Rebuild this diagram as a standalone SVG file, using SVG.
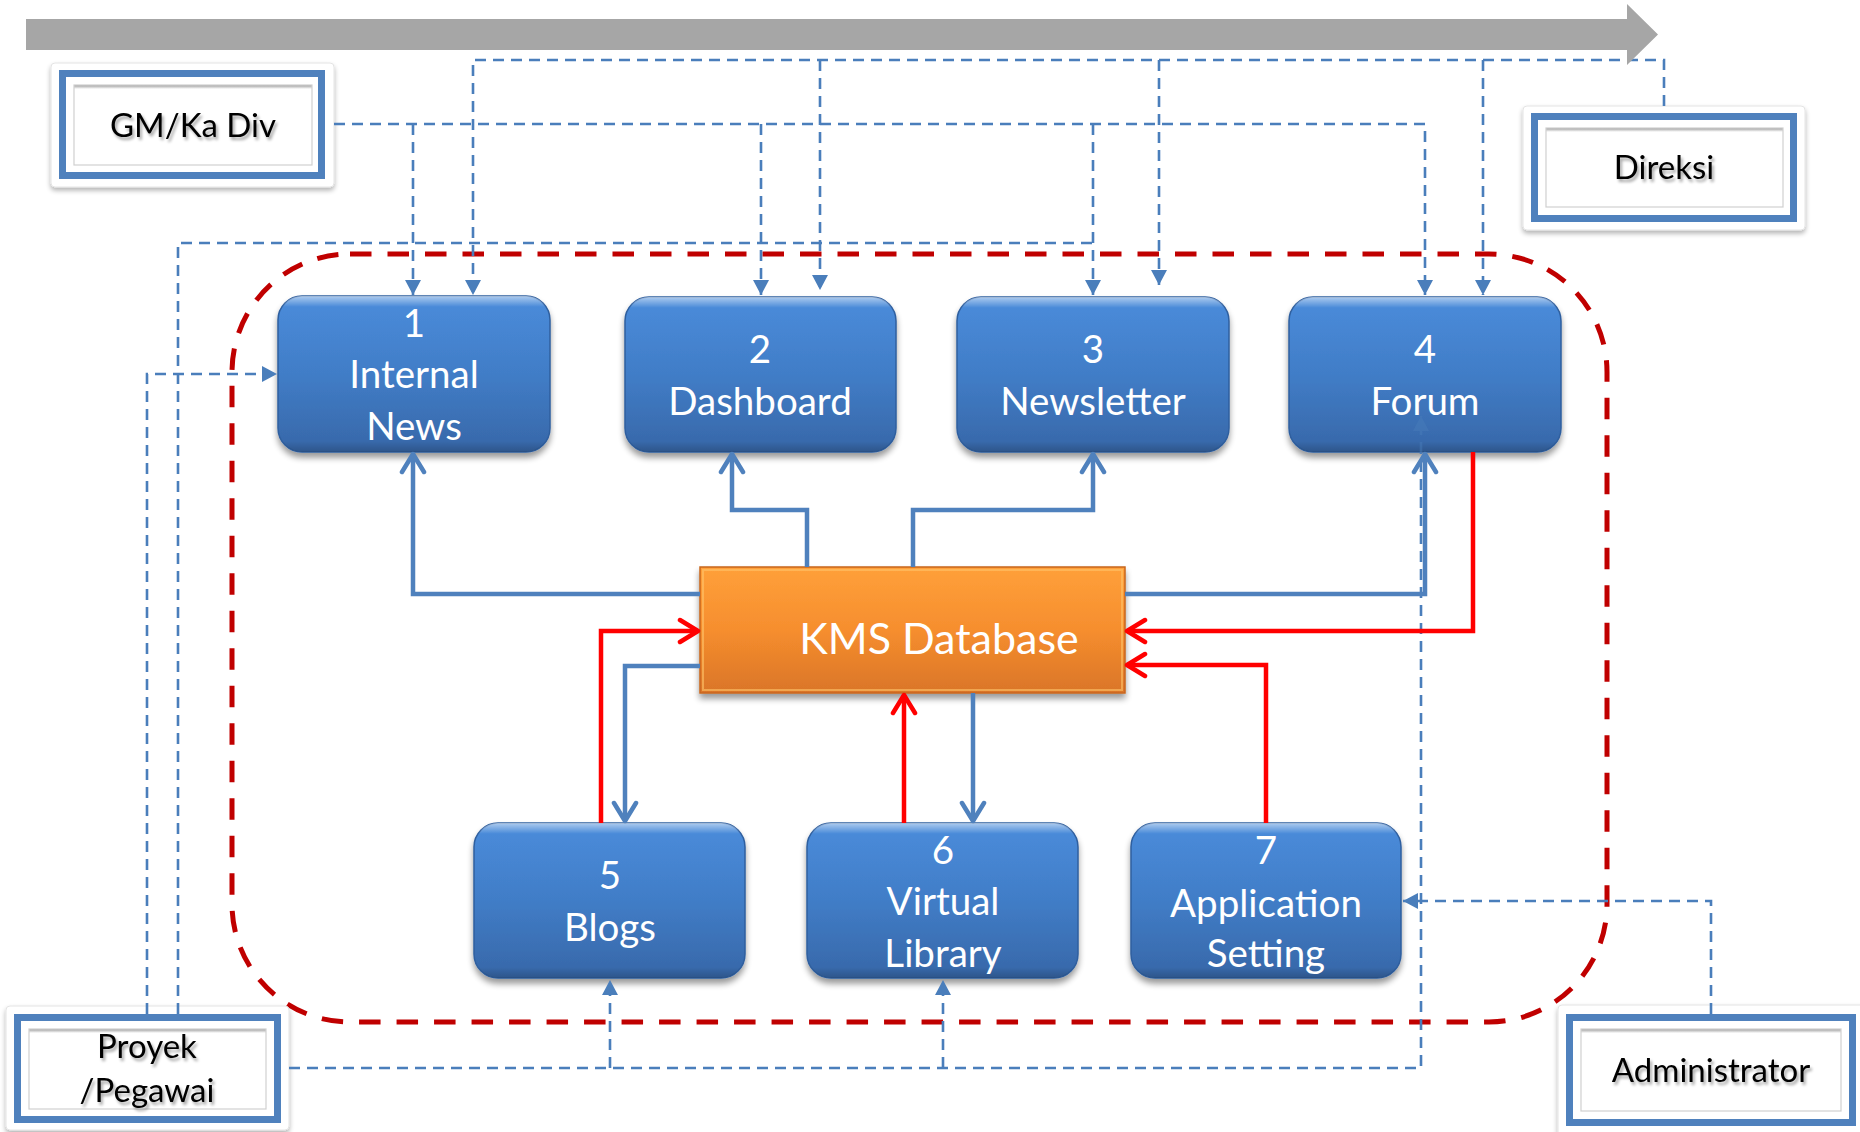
<svg xmlns="http://www.w3.org/2000/svg" width="1860" height="1132" viewBox="0 0 1860 1132">
<defs>
  <linearGradient id="gBlue" x1="0" y1="0" x2="0" y2="1">
    <stop offset="0" stop-color="#4A8CDB"/>
    <stop offset="0.5" stop-color="#417DC7"/>
    <stop offset="1" stop-color="#3767A8"/>
  </linearGradient>
  <linearGradient id="gHl" x1="0" y1="0" x2="0" y2="1">
    <stop offset="0" stop-color="#ffffff" stop-opacity="0.55"/>
    <stop offset="0.07" stop-color="#ffffff" stop-opacity="0"/>
    <stop offset="0.93" stop-color="#000000" stop-opacity="0"/>
    <stop offset="1" stop-color="#000000" stop-opacity="0.18"/>
  </linearGradient>
  <linearGradient id="gOrange" x1="0" y1="0" x2="0" y2="1">
    <stop offset="0" stop-color="#FFA03A"/>
    <stop offset="0.5" stop-color="#F68E2E"/>
    <stop offset="1" stop-color="#DA7528"/>
  </linearGradient>
  <linearGradient id="gInner" x1="0" y1="0" x2="0" y2="1">
    <stop offset="0" stop-color="#9a9a9a"/>
    <stop offset="0.05" stop-color="#ffffff"/>
    <stop offset="1" stop-color="#ffffff"/>
  </linearGradient>
  <filter id="shadow" x="-10%" y="-10%" width="120%" height="135%">
    <feGaussianBlur in="SourceAlpha" stdDeviation="3"/>
    <feOffset dy="5"/>
    <feComponentTransfer><feFuncA type="linear" slope="0.4"/></feComponentTransfer>
    <feMerge><feMergeNode/><feMergeNode in="SourceGraphic"/></feMerge>
  </filter>
  <filter id="cshadow" x="-10%" y="-10%" width="120%" height="130%">
    <feGaussianBlur in="SourceAlpha" stdDeviation="2.5"/>
    <feOffset dy="3"/>
    <feComponentTransfer><feFuncA type="linear" slope="0.3"/></feComponentTransfer>
    <feMerge><feMergeNode/><feMergeNode in="SourceGraphic"/></feMerge>
  </filter>
  <filter id="tshadow" x="-10%" y="-30%" width="130%" height="170%">
    <feGaussianBlur in="SourceAlpha" stdDeviation="1.5"/>
    <feOffset dx="2" dy="3"/>
    <feComponentTransfer><feFuncA type="linear" slope="0.35"/></feComponentTransfer>
    <feMerge><feMergeNode/><feMergeNode in="SourceGraphic"/></feMerge>
  </filter>
  <marker id="arrD" markerUnits="userSpaceOnUse" markerWidth="16" markerHeight="16" refX="15" refY="8" orient="auto">
    <path d="M0,0 L15,8 L0,16 Z" fill="#4A7EBB" stroke="none"/>
  </marker>
  <marker id="arrB" markerUnits="userSpaceOnUse" markerWidth="26" markerHeight="28" refX="21" refY="14" orient="auto">
    <path d="M3,3 L21,14 L3,25" fill="none" stroke="#4F81BD" stroke-width="4.5" stroke-linecap="round" stroke-linejoin="round"/>
  </marker>
  <marker id="arrR" markerUnits="userSpaceOnUse" markerWidth="26" markerHeight="28" refX="21" refY="14" orient="auto">
    <path d="M3,3 L21,14 L3,25" fill="none" stroke="#FF0000" stroke-width="4.5" stroke-linecap="round" stroke-linejoin="round"/>
  </marker>
</defs>
<style>
  .nb { fill:url(#gBlue); stroke:#2F5F9F; stroke-width:1.5; filter:url(#shadow); }
  .hl { fill:url(#gHl); stroke:none; }
  .nt { font-family:Lato, "Liberation Sans", sans-serif; font-size:38.5px; fill:#ffffff; text-anchor:middle; }
  .card { fill:#ffffff; stroke:#e4e4e4; stroke-width:1; filter:url(#cshadow); }
  .abord { fill:#ffffff; stroke:#4F81BD; stroke-width:7; }
  .ainner { fill:url(#gInner); stroke:#d0d0d0; stroke-width:1.2; }
  .at { font-family:Lato, "Liberation Sans", sans-serif; font-size:33px; fill:#000000; text-anchor:middle; filter:url(#tshadow); }
  .dash { fill:none; stroke:#4A7EBB; stroke-width:2.6; stroke-dasharray:11 7; }
  .sb { fill:none; stroke:#4F81BD; stroke-width:4.5; stroke-linejoin:miter; }
  .sr { fill:none; stroke:#FF0000; stroke-width:4.5; stroke-linejoin:miter; }
  .bound { fill:none; stroke:#C00000; stroke-width:5; stroke-dasharray:21.5 16; }
</style>

<rect width="1860" height="1132" fill="#ffffff"/>

<!-- boundary -->
<rect id="boundary" class="bound" x="232" y="254" width="1375" height="768" rx="118" ry="118"/>

<!-- actors -->
<g id="gm">
  <rect class="card" x="51" y="63" width="283" height="124" rx="4"/>
  <rect class="abord" x="62.5" y="73.5" width="259" height="102"/>
  <rect class="ainner" x="74" y="85" width="238" height="80"/>
  <text class="at" x="193" y="137">GM/Ka Div</text>
</g>
<g id="direksi">
  <rect class="card" x="1523" y="106" width="282" height="124" rx="4"/>
  <rect class="abord" x="1534.5" y="116.5" width="259" height="102"/>
  <rect class="ainner" x="1546" y="128" width="237" height="79"/>
  <text class="at" x="1664" y="179" font-size="34">Direksi</text>
</g>
<g id="proyek">
  <rect class="card" x="6" y="1006" width="283" height="124" rx="4"/>
  <rect class="abord" x="17.5" y="1017.5" width="260" height="102"/>
  <rect class="ainner" x="29" y="1029" width="237" height="80"/>
  <text class="at" x="147" y="1058">Proyek</text>
  <text class="at" x="147" y="1102">/Pegawai</text>
</g>
<g id="admin">
  <rect class="card" x="1558" y="1005" width="310" height="132" rx="4"/>
  <rect class="abord" x="1569.5" y="1017.5" width="283" height="105"/>
  <rect class="ainner" x="1581" y="1029" width="260" height="82"/>
  <text class="at" x="1711" y="1082" font-size="34.5">Administrator</text>
</g>

<!-- nodes -->
<g id="n1">
  <rect class="nb" x="278" y="296" width="272" height="156" rx="24"/>
  <rect class="hl" x="278" y="296" width="272" height="156" rx="24"/>
  <text class="nt" x="414" y="337">1</text>
  <text class="nt" x="414" y="388">Internal</text>
  <text class="nt" x="414" y="440">News</text>
</g>
<g id="n2">
  <rect class="nb" x="625" y="297" width="271" height="155" rx="24"/>
  <rect class="hl" x="625" y="297" width="271" height="155" rx="24"/>
  <text class="nt" x="760" y="363">2</text>
  <text class="nt" x="760" y="415">Dashboard</text>
</g>
<g id="n3">
  <rect class="nb" x="957" y="297" width="272" height="155" rx="24"/>
  <rect class="hl" x="957" y="297" width="272" height="155" rx="24"/>
  <text class="nt" x="1093" y="363">3</text>
  <text class="nt" x="1093" y="415">Newsletter</text>
</g>
<g id="n4">
  <rect class="nb" x="1289" y="297" width="272" height="155" rx="24"/>
  <rect class="hl" x="1289" y="297" width="272" height="155" rx="24"/>
  <text class="nt" x="1425" y="363">4</text>
  <text class="nt" x="1425" y="415">Forum</text>
</g>
<g id="n5">
  <rect class="nb" x="474" y="823" width="271" height="155" rx="24"/>
  <rect class="hl" x="474" y="823" width="271" height="155" rx="24"/>
  <text class="nt" x="610" y="889">5</text>
  <text class="nt" x="610" y="941">Blogs</text>
</g>
<g id="n6">
  <rect class="nb" x="807" y="823" width="271" height="155" rx="24"/>
  <rect class="hl" x="807" y="823" width="271" height="155" rx="24"/>
  <text class="nt" x="943" y="864">6</text>
  <text class="nt" x="943" y="915">Virtual</text>
  <text class="nt" x="943" y="967">Library</text>
</g>
<g id="n7">
  <rect class="nb" x="1131" y="823" width="270" height="155" rx="24"/>
  <rect class="hl" x="1131" y="823" width="270" height="155" rx="24"/>
  <text class="nt" x="1266" y="864">7</text>
  <text class="nt" x="1266" y="917">Application</text>
  <text class="nt" x="1266" y="967">Setting</text>
</g>
<g id="kms">
  <rect x="700" y="567" width="425" height="126" fill="url(#gOrange)" stroke="#C8661E" stroke-width="1.5" filter="url(#shadow)"/>
  <rect x="703" y="570" width="419" height="120" fill="none" stroke="#FFC46A" stroke-width="2" stroke-opacity="0.6"/>
  <text x="939" y="654" font-family="Lato, 'Liberation Sans', sans-serif" font-size="43" fill="#ffffff" text-anchor="middle">KMS Database</text>
</g>

<!-- connectors -->
<g id="connectors">
  <!-- GM/Ka Div -->
  <path class="dash" d="M334,124 H1425 V295" marker-end="url(#arrD)"/>
  <path class="dash" d="M413,124 V295" marker-end="url(#arrD)"/>
  <path class="dash" d="M761,124 V295" marker-end="url(#arrD)"/>
  <path class="dash" d="M1093,124 V295" marker-end="url(#arrD)"/>
  <!-- Direksi -->
  <path class="dash" d="M1664,106 V60 H473 V295" marker-end="url(#arrD)"/>
  <path class="dash" d="M820,60 V290" marker-end="url(#arrD)"/>
  <path class="dash" d="M1159,60 V285" marker-end="url(#arrD)"/>
  <path class="dash" d="M1483,60 V295" marker-end="url(#arrD)"/>
  <!-- Proyek / Pegawai -->
  <path class="dash" d="M178,1014 V243 H1093"/>
  <path class="dash" d="M147,1014 V374 H277" marker-end="url(#arrD)"/>
  <path class="dash" d="M289,1068 H1421 V453"/>
  <path class="dash" d="M1421,453 V416" marker-end="url(#arrD)" opacity="0.45"/>
  <path class="dash" d="M610,1068 V980" marker-end="url(#arrD)"/>
  <path class="dash" d="M943,1068 V980" marker-end="url(#arrD)"/>
  <!-- Administrator -->
  <path class="dash" d="M1711,1014 V901 H1403" marker-end="url(#arrD)"/>
  <!-- KMS Database to modules -->
  <path class="sb" d="M700,594 H413 V454" marker-end="url(#arrB)"/>
  <path class="sb" d="M807,567 V510 H732 V454" marker-end="url(#arrB)"/>
  <path class="sb" d="M913,567 V510 H1093 V454" marker-end="url(#arrB)"/>
  <path class="sb" d="M1125,594 H1425 V454" marker-end="url(#arrB)"/>
  <path class="sb" d="M700,666 H625 V821" marker-end="url(#arrB)"/>
  <path class="sb" d="M973,693 V821" marker-end="url(#arrB)"/>
  <!-- modules to KMS Database -->
  <path class="sr" d="M1473,452 V631 H1127" marker-end="url(#arrR)"/>
  <path class="sr" d="M1266,823 V665 H1127" marker-end="url(#arrR)"/>
  <path class="sr" d="M601,823 V631 H698" marker-end="url(#arrR)"/>
  <path class="sr" d="M904,823 V695" marker-end="url(#arrR)"/>
</g>

<!-- timeline arrow -->
<polygon id="timeline" points="26,19 1627,19 1627,4 1658,34.5 1627,65 1627,50 26,50" fill="#A6A6A6"/>
</svg>
